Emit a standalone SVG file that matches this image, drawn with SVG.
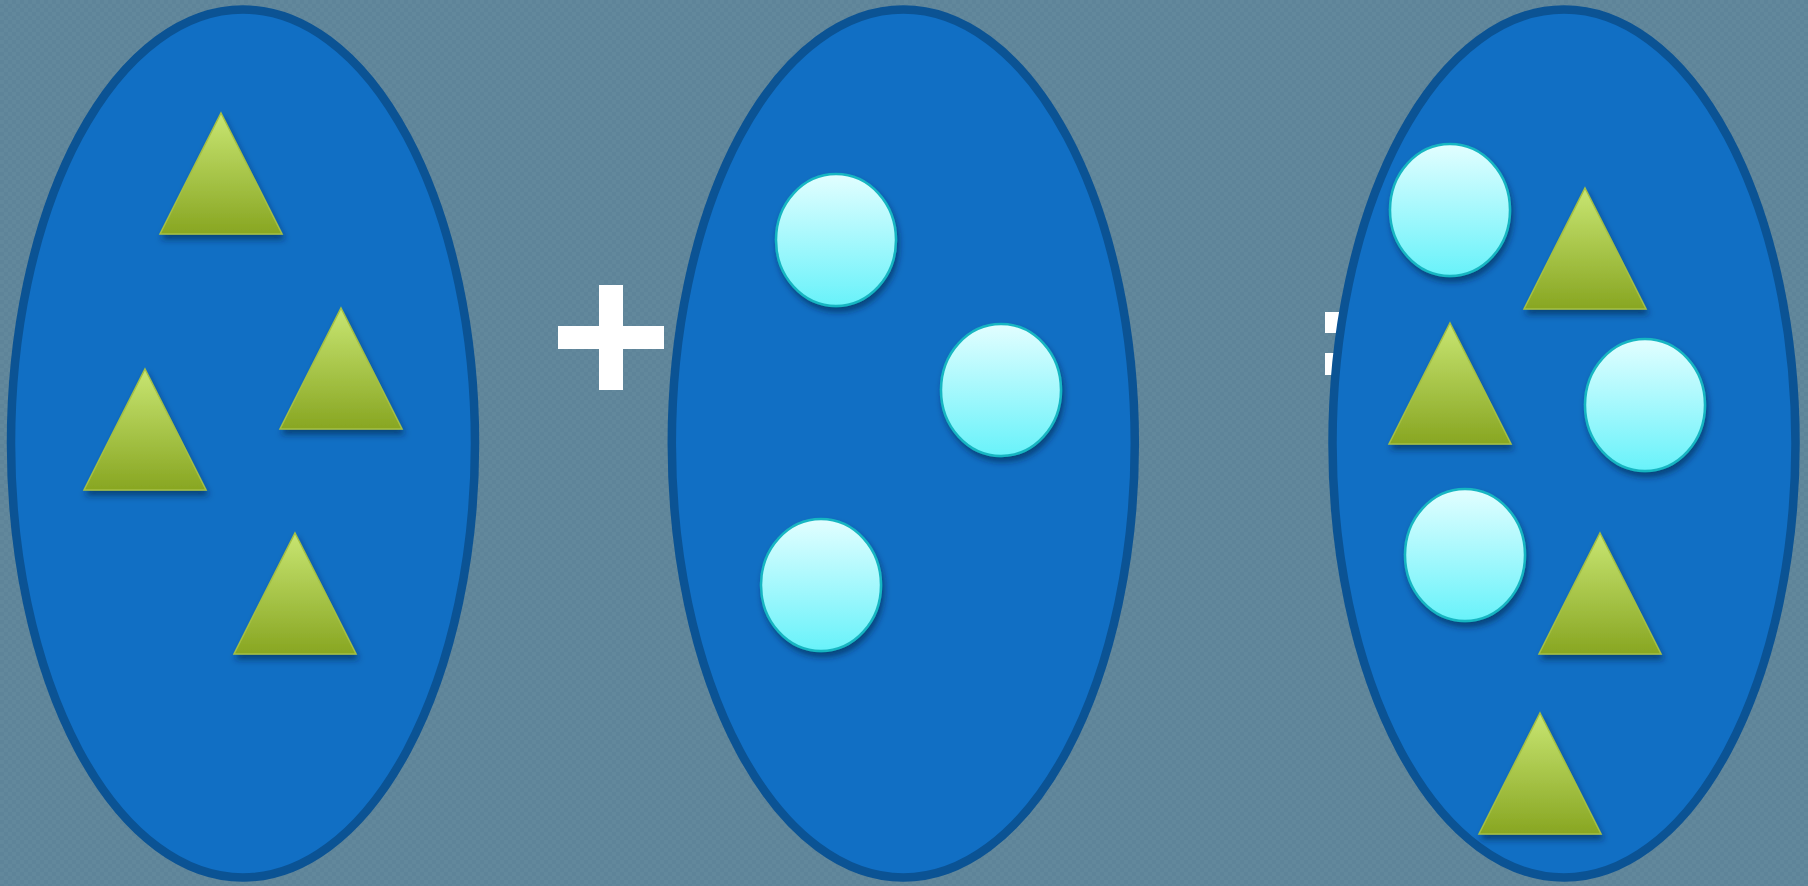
<svg xmlns="http://www.w3.org/2000/svg" width="1808" height="886" viewBox="0 0 1808 886">
  <defs>
    <pattern id="bgp" width="8" height="8" patternUnits="userSpaceOnUse">
      <rect width="8" height="8" fill="#5e8499"/>
      <rect width="4" height="4" fill="#62889c"/>
      <rect x="4" y="4" width="4" height="4" fill="#62889c"/>
    </pattern>
    <linearGradient id="tg" x1="0" y1="0" x2="0" y2="1">
      <stop offset="0" stop-color="#c8e572"/>
      <stop offset="1" stop-color="#88a622"/>
    </linearGradient>
    <linearGradient id="cg" x1="0" y1="0" x2="0" y2="1">
      <stop offset="0" stop-color="#e2feff"/>
      <stop offset="1" stop-color="#68f2fa"/>
    </linearGradient>
    <filter id="sh" x="-30%" y="-30%" width="160%" height="160%">
      <feDropShadow dx="2" dy="5" stdDeviation="3" flood-color="#001a40" flood-opacity="0.55"/>
    </filter>
    <polygon id="tri" points="0,0 61,121 -61,121"/>
  </defs>
  <style>
    .set { fill: #116fc4; stroke: #0b5394; stroke-width: 8.5; }
    .tri { fill: url(#tg); stroke: #a5c043; stroke-width: 1.5; filter: url(#sh); }
    .cir { fill: url(#cg); stroke: #19b6c2; stroke-width: 2.5; filter: url(#sh); }
    .op { fill: #ffffff; }
  </style>
  <rect width="1808" height="886" fill="url(#bgp)"/>

  <g id="set-a">
    <ellipse class="set" cx="243" cy="443.5" rx="232" ry="434"/>
    <use href="#tri" class="tri" x="221" y="113"/>
    <use href="#tri" class="tri" x="341" y="308"/>
    <use href="#tri" class="tri" x="145" y="369"/>
    <use href="#tri" class="tri" x="295" y="533"/>
  </g>

  <g id="plus">
    <rect class="op" x="558" y="326" width="106" height="23"/>
    <rect class="op" x="599" y="285" width="24" height="105"/>
  </g>

  <g id="set-b">
    <ellipse class="set" cx="903.3" cy="443.5" rx="231.5" ry="434"/>
    <ellipse class="cir" cx="836" cy="240" rx="60" ry="66"/>
    <ellipse class="cir" cx="1001" cy="390" rx="60" ry="66"/>
    <ellipse class="cir" cx="821" cy="585" rx="60" ry="66"/>
  </g>

  <g id="equals">
    <rect class="op" x="1325" y="312" width="106" height="21"/>
    <rect class="op" x="1325" y="353" width="106" height="22"/>
  </g>

  <g id="set-c">
    <ellipse class="set" cx="1564" cy="443.5" rx="231.5" ry="434"/>
    <ellipse class="cir" cx="1450" cy="210" rx="60" ry="66"/>
    <ellipse class="cir" cx="1645" cy="405" rx="60" ry="66"/>
    <ellipse class="cir" cx="1465" cy="555" rx="60" ry="66"/>
    <use href="#tri" class="tri" x="1585" y="188"/>
    <use href="#tri" class="tri" x="1450" y="323"/>
    <use href="#tri" class="tri" x="1600" y="533"/>
    <use href="#tri" class="tri" x="1540" y="713"/>
  </g>
</svg>
